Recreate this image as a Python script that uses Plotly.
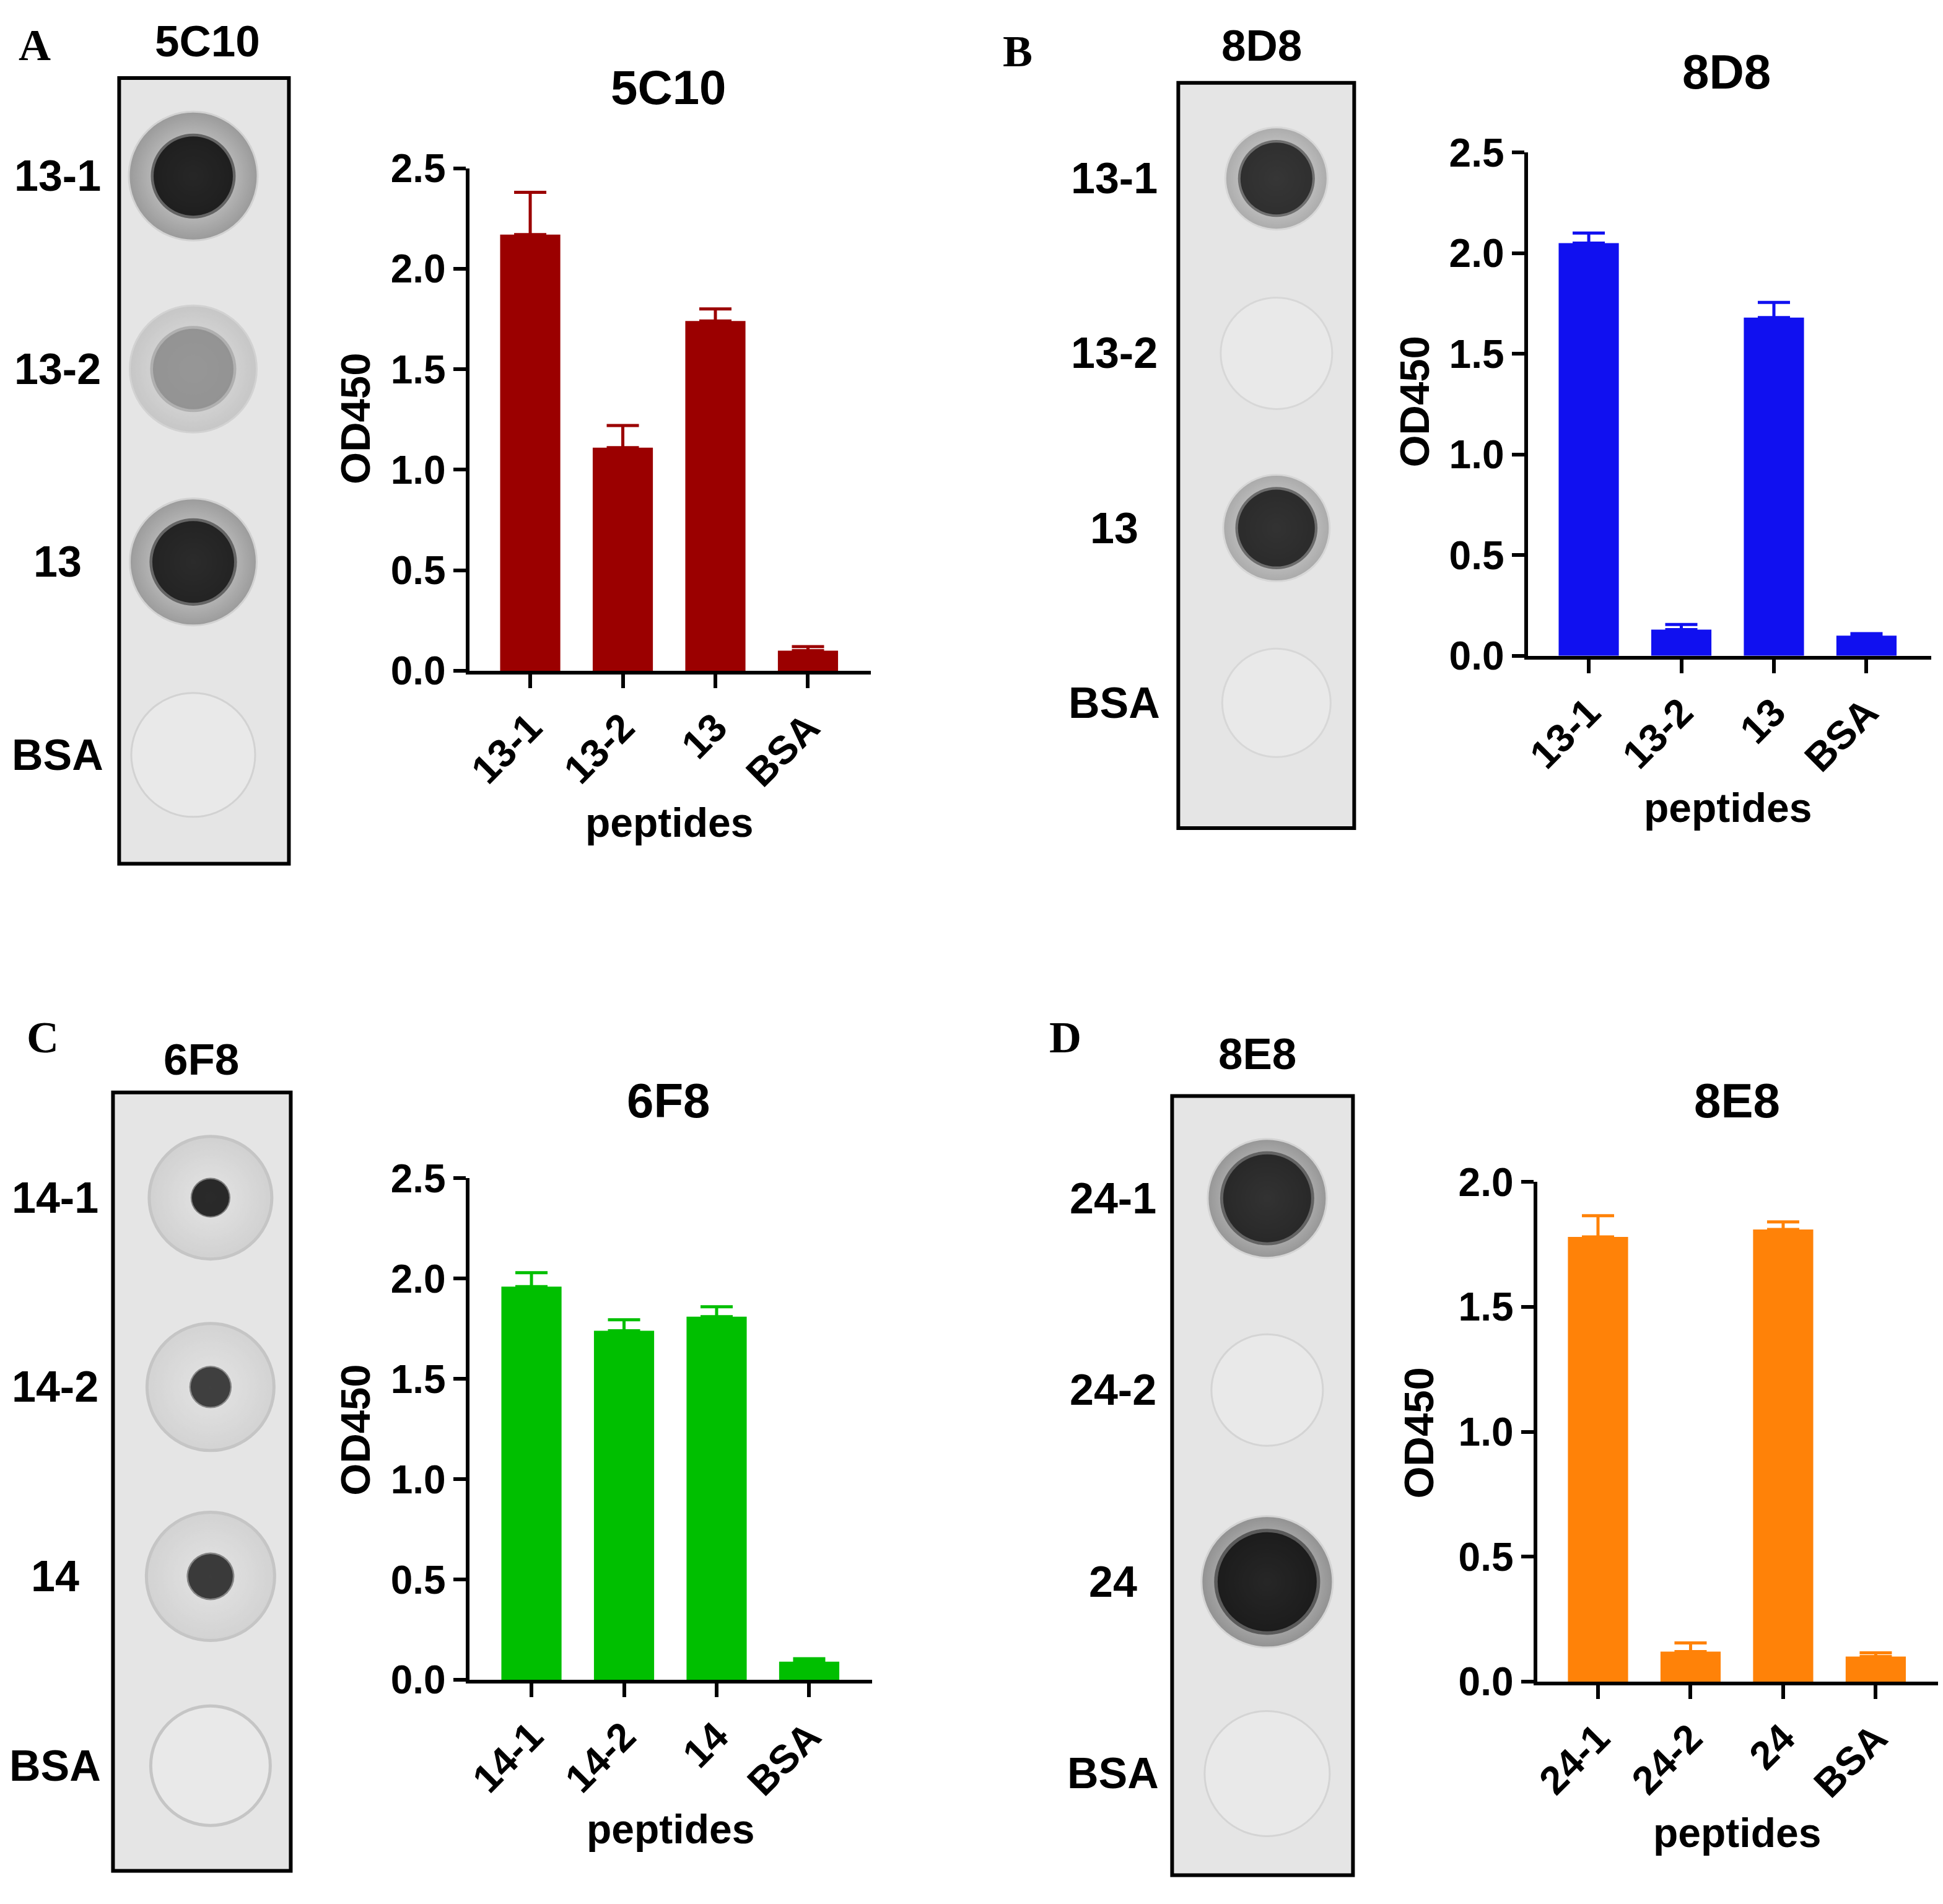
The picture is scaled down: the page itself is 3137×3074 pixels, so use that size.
import plotly.graph_objects as go

W, H = 3137, 3074
PAGE_OFFSET = 8  # the page body margin shifts the figure by this many px

# ---------------- data ----------------
antibodies = ["5C10", "8D8", "6F8", "8E8"]
panel_letters = ["A", "B", "C", "D"]

a_peptides = ["13-1", "13-2", "13", "BSA"]
a_od450 = [2.17, 1.11, 1.74, 0.10]
a_sem = [0.21, 0.11, 0.06, 0.02]
a_dot_signal = [0.99, 0.40, 0.97, 0.0]

b_peptides = ["13-1", "13-2", "13", "BSA"]
b_od450 = [2.05, 0.13, 1.68, 0.10]
b_sem = [0.05, 0.025, 0.075, 0.01]
b_dot_signal = [0.91, 0.0, 0.93, 0.0]

c_peptides = ["14-1", "14-2", "14", "BSA"]
c_od450 = [1.96, 1.74, 1.81, 0.09]
c_sem = [0.07, 0.055, 0.05, 0.015]
c_dot_signal = [0.98, 0.86, 0.89, 0.0]

d_peptides = ["24-1", "24-2", "24", "BSA"]
d_od450 = [1.78, 0.12, 1.81, 0.10]
d_sem = [0.085, 0.035, 0.03, 0.015]
d_dot_signal = [0.93, 0.0, 0.99, 0.0]

y_max = [2.5, 2.5, 2.5, 2.0]
y_ticks = [[0.0, 0.5, 1.0, 1.5, 2.0, 2.5]] * 3 + [[0.0, 0.5, 1.0, 1.5, 2.0]]

# ---------------- layout / style (pixel geometry) ----------------
panels = [
    dict(cats=a_peptides, od=a_od450, sem=a_sem, sig=a_dot_signal, color="#9B0000",
         letter=(45, 38), header=(325, 31), rect=(182, 92, 457, 1391), dot_x=302,
         row0=254, row_step=319, label_x=82,
         bar=(750, 1400, 241, 1072), c0=848, title=(1072, 107), ytitle=(565, 655), xtitle=(1073, 1323),
         halo=[208, 205, 205, 200], spot=[128, 130, 132, 0],
         halo_core=(122, 122, 122), ring="#cbcbcb", ring_w=3),
    dict(cats=b_peptides, od=b_od450, sem=b_sem, sig=b_dot_signal, color="#1010F0",
         letter=(1638, 48), header=(2033, 38), rect=(1898, 100, 2183, 1332), dot_x=2057,
         row0=258, row_step=289, label_x=1794,
         bar=(2465, 3118, 215, 1047), c0=2563, title=(2786, 82), ytitle=(2280, 627), xtitle=(2788, 1298),
         halo=[165, 180, 172, 175], spot=[116, 0, 124, 0],
         halo_core=(140, 140, 140), ring="#d2d2d2", ring_w=3),
    dict(cats=c_peptides, od=c_od450, sem=c_sem, sig=c_dot_signal, color="#00BF00",
         letter=(58, 1678), header=(315, 1714), rect=(172, 1769, 460, 3056), dot_x=330,
         row0=1943, row_step=313, label_x=78,
         bar=(750, 1402, 1911, 2740), c0=850, title=(1072, 1783), ytitle=(565, 2327), xtitle=(1075, 2987),
         halo=[198, 205, 207, 193], spot=[60, 64, 72, 0],
         halo_core=(200, 200, 200), ring="#b8b8b8", ring_w=5),
    dict(cats=d_peptides, od=d_od450, sem=d_sem, sig=d_dot_signal, color="#FF8208",
         letter=(1715, 1678), header=(2026, 1705), rect=(1888, 1775, 2181, 3063), dot_x=2042,
         row0=1944, row_step=317, label_x=1792,
         bar=(2480, 3130, 1917, 2743), c0=2578, title=(2803, 1783), ytitle=(2288, 2332), xtitle=(2803, 2993),
         halo=[192, 180, 212, 202], spot=[142, 0, 160, 0],
         halo_core=(110, 110, 110), ring="#cdcdcd", ring_w=3),
]

BAR_STEP = 150.0
BG_RGB = (229, 229, 229)
BLOT_BG = "rgb(229,229,229)"
EMPTY_FILL = "#ebebeb"
SANS = "Liberation Sans, Arial, sans-serif"
SERIF = "Liberation Serif, Times New Roman, serif"


def px_x(x):
    return (x - PAGE_OFFSET) / W


def px_y(y):
    return 1 - (y - PAGE_OFFSET) / H


def gray(sig):
    g = int(round(225 * (1 - sig)))
    return f"rgb({g},{g},{g})"


def halo_color(core, sig):
    if sig <= 0:
        return EMPTY_FILL
    c = [int(round(b - (b - k) * sig)) for b, k in zip(BG_RGB, core)]
    return f"rgb({c[0]},{c[1]},{c[2]})"


fig = go.Figure()
annotations = []
shapes = []
layout_axes = {}

for i, p in enumerate(panels):
    bi = i + 1          # bar chart axes index
    di = i + 5          # dot blot axes index
    bx = "x" if bi == 1 else f"x{bi}"
    by = "y" if bi == 1 else f"y{bi}"
    dx = f"x{di}"
    dy = f"y{di}"

    # ---------- bar chart ----------
    fig.add_trace(go.Bar(
        x=p["cats"], y=p["od"], xaxis=bx, yaxis=by,
        marker=dict(color=p["color"], line=dict(width=0)),
        width=0.65,
        error_y=dict(type="data", array=p["sem"], arrayminus=[0] * len(p["sem"]),
                     symmetric=False, color=p["color"], thickness=5, width=26),
        showlegend=False, hoverinfo="x+y",
    ))
    x0, x1, ytop, ybot = p["bar"]
    rng_x = [-(p["c0"] - x0) / BAR_STEP, (x1 - p["c0"]) / BAR_STEP]
    layout_axes["xaxis" if bi == 1 else f"xaxis{bi}"] = dict(
        domain=[px_x(x0), px_x(x1)], anchor=by, type="category",
        categoryorder="array", categoryarray=p["cats"], range=rng_x,
        showline=True, linecolor="black", linewidth=6, mirror=False,
        ticks="outside", ticklen=22, tickwidth=6, tickcolor="black",
        tickangle=-45, tickfont=dict(family=SANS, size=64, color="black", weight="bold"),
        showgrid=False, zeroline=False, fixedrange=True,
    )
    layout_axes["yaxis" if bi == 1 else f"yaxis{bi}"] = dict(
        domain=[px_y(ybot), px_y(ytop)], anchor=bx, range=[0, y_max[i]],
        tickvals=y_ticks[i], ticktext=[f"{v:.1f}" for v in y_ticks[i]],
        showline=True, linecolor="black", linewidth=6,
        ticks="outside", ticklen=20, tickwidth=6, tickcolor="black",
        tickfont=dict(family=SANS, size=64, color="black", weight="bold"),
        showgrid=False, zeroline=False, fixedrange=True,
    )

    # ---------- dot blot ----------
    rl, rt, rr, rb = p["rect"]
    shapes.append(dict(type="rect", xref="paper", yref="paper",
                       x0=px_x(rl), x1=px_x(rr), y0=px_y(rb), y1=px_y(rt),
                       fillcolor=BLOT_BG, line=dict(color="black", width=6), layer="below"))
    n = len(p["cats"])
    rows = list(range(n))
    # halo / application ring of each spot
    fig.add_trace(go.Scatter(
        x=[0] * n, y=rows, xaxis=dx, yaxis=dy, mode="markers",
        marker=dict(size=p["halo"],
                    color=[halo_color(p["halo_core"], s) for s in p["sig"]],
                    line=dict(color=p["ring"], width=p["ring_w"]),
                    gradient=dict(type="radial", color=[BLOT_BG if s > 0 else EMPTY_FILL for s in p["sig"]])),
        showlegend=False, hoverinfo="skip",
    ))
    idx = [k for k in rows if p["sig"][k] > 0]
    # soft edge of the spot
    fig.add_trace(go.Scatter(
        x=[0] * len(idx), y=idx, xaxis=dx, yaxis=dy, mode="markers",
        marker=dict(size=[p["spot"][k] * 1.07 for k in idx],
                    color=[gray(p["sig"][k]) for k in idx],
                    opacity=0.45, line=dict(width=0)),
        showlegend=False, hoverinfo="skip",
    ))
    # spot
    fig.add_trace(go.Scatter(
        x=[0] * len(idx), y=idx, xaxis=dx, yaxis=dy, mode="markers",
        marker=dict(size=[p["spot"][k] for k in idx],
                    color=[gray(p["sig"][k]) for k in idx], line=dict(width=0)),
        showlegend=False, hoverinfo="text", text=[p["cats"][k] for k in idx],
    ))
    half = 130
    step = p["row_step"]
    layout_axes[f"xaxis{di}"] = dict(
        domain=[px_x(p["dot_x"] - half), px_x(p["dot_x"] + half)], anchor=dy,
        range=[-1, 1], visible=False, fixedrange=True,
    )
    layout_axes[f"yaxis{di}"] = dict(
        domain=[px_y(rb), px_y(rt)], anchor=dx,
        range=[(rb - p["row0"]) / step, (rt - p["row0"]) / step],
        visible=False, fixedrange=True,
    )

    # row labels
    for k, cat in enumerate(p["cats"]):
        annotations.append(dict(text=cat, x=px_x(p["label_x"]), xref="paper", y=k, yref=dy,
                                xanchor="center", yanchor="middle", showarrow=False,
                                font=dict(family=SANS, size=70, color="black", weight="bold")))
    annotations.append(dict(text=antibodies[i], x=px_x(p["header"][0]), y=px_y(p["header"][1]),
                            xref="paper", yref="paper", xanchor="center", yanchor="middle",
                            showarrow=False, font=dict(family=SANS, size=71, color="black", weight="bold")))
    annotations.append(dict(text=panel_letters[i], x=px_x(p["letter"][0]), y=px_y(p["letter"][1]),
                            xref="paper", yref="paper", xanchor="center", yanchor="middle",
                            showarrow=False, font=dict(family=SERIF, size=72, color="black", weight="bold")))
    annotations.append(dict(text=antibodies[i], x=px_x(p["title"][0]), y=px_y(p["title"][1]),
                            xref="paper", yref="paper", xanchor="center", yanchor="middle",
                            showarrow=False, font=dict(family=SANS, size=78, color="black", weight="bold")))
    annotations.append(dict(text="OD450", x=px_x(p["ytitle"][0]), y=px_y(p["ytitle"][1]),
                            xref="paper", yref="paper", xanchor="center", yanchor="middle", textangle=-90,
                            showarrow=False, font=dict(family=SANS, size=67, color="black", weight="bold")))
    annotations.append(dict(text="peptides", x=px_x(p["xtitle"][0]), y=px_y(p["xtitle"][1]),
                            xref="paper", yref="paper", xanchor="center", yanchor="middle",
                            showarrow=False, font=dict(family=SANS, size=66, color="black", weight="bold")))

fig.update_layout(
    width=W, height=H, autosize=False,
    margin=dict(l=0, r=0, t=0, b=0, pad=0),
    paper_bgcolor="white", plot_bgcolor="rgba(0,0,0,0)",
    showlegend=False,
    font=dict(family=SANS, color="black"),
    annotations=annotations, shapes=shapes,
    **layout_axes,
)

fig.write_html("out.html")
